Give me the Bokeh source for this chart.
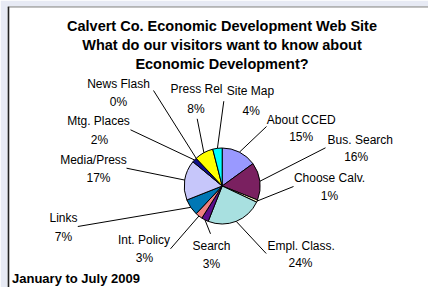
import numpy as np
from bokeh.plotting import figure
from bokeh.models import Range1d, Span, ColumnDataSource
from bokeh.core.properties import value
from bokeh.embed import file_html
from bokeh.resources import INLINE

# ---- data ----
categories = ["About CCED", "Bus. Search", "Choose Calv.", "Empl. Class.", "Search",
              "Int. Policy", "Links", "Media/Press", "Mtg. Places", "News Flash",
              "Press Rel", "Site Map"]
percent = [15, 16, 1, 24, 3, 3, 7, 17, 2, 0, 8, 4]
colors = ["#9999ff", "#7a2060", "#ffffcc", "#a8e0e0", "#5b0e8b", "#f08080",
          "#0077b5", "#c6c6fa", "#10108a", "#ff00ff", "#ffff00", "#00ffff"]
title_lines = ["Calvert Co. Economic Development Web Site",
               "What do our visitors want to know about",
               "Economic Development?"]
footer = "January to July 2009"

# ---- layout (pixel positions in the page) ----
W, H = 428, 287
name_x = [300.7, 359.8, 329, 300.7, 211, 143.5, 63, 93, 98, 118, 196, 250]
name_y = [119.3, 139, 177.3, 245, 245, 239, 217.7, 159, 120.7, 83, 88.5, 90]
pct_x = [300.7, 355.7, 329, 300, 211, 144, 63, 98, 99, 118, 195.5, 250.7]
pct_y = [136.7, 156.7, 195, 262.3, 263, 257.3, 236, 177.3, 139.3, 101.7, 108.5, 110.5]
lead_x = [266, 325, 293, 265.7, 210, 170, 77.3, 126, 130, 153, 196.7, 223.3]
lead_y = [126, 147.3, 186, 253, 233.3, 248.3, 226, 167.7, 129.3, 90, 118.3, 100.7]
cx, cy, r = 221.7, 185.5, 38

def fy(y):
    return H - np.asarray(y, dtype=float)

vals = np.array(percent, dtype=float)
frac = vals / vals.sum()
end_f = np.cumsum(frac)
start_f = end_f - frac
mid_f = (start_f + end_f) / 2

p = figure(width=W, height=H, output_backend="svg", toolbar_location=None,
           x_range=Range1d(7, W), y_range=Range1d(0, H - 6),
           min_border_left=7, min_border_top=6, min_border_right=0, min_border_bottom=0,
           background_fill_color="white", border_fill_color="#e7eaf4")
p.xaxis.visible = False
p.yaxis.visible = False
p.grid.visible = False
p.outline_line_color = None

# frame borders (left, top)
p.add_layout(Span(location=7.8, dimension="height", line_color="#222222", line_width=2))
p.add_layout(Span(location=H - 6.3, dimension="width", line_color="#333333", line_width=1))

# wedges
mask = vals > 0
src = ColumnDataSource(dict(
    start=(np.pi / 2 - 2 * np.pi * end_f)[mask],
    end=(np.pi / 2 - 2 * np.pi * start_f)[mask],
    color=np.array(colors)[mask],
))
p.wedge(x=cx, y=H - cy, radius=r, start_angle="start", end_angle="end",
        fill_color="color", line_color="black", line_width=1, source=src)

# leader lines
ex = cx + r * np.sin(2 * np.pi * mid_f)
ey = cy - r * np.cos(2 * np.pi * mid_f)
p.segment(x0=list(ex), y0=list(fy(ey)), x1=lead_x, y1=list(fy(lead_y)),
          line_color="black", line_width=1)

font = value("Liberation Sans")
p.text(x=name_x, y=list(fy(name_y)), text=categories, text_font=font,
       text_font_size="12px", text_align="center", text_baseline="middle",
       text_color="black")
p.text(x=pct_x, y=list(fy(pct_y)), text=[f"{v}%" for v in percent], text_font=font,
       text_font_size="12px", text_align="center", text_baseline="middle",
       text_color="black")

# title
p.text(x=[221.5] * 3, y=list(fy([25.3, 44.2, 63])), text=title_lines, text_font=font,
       text_font_size="14.5px", text_font_style="bold", text_align="center",
       text_baseline="middle", text_color="black")
# footer
p.text(x=[11.5], y=list(fy([277.7])), text=[footer], text_font=font,
       text_font_size="13px", text_font_style="bold", text_align="left",
       text_baseline="middle", text_color="black")

open("out.html", "w").write(file_html(p, INLINE))
